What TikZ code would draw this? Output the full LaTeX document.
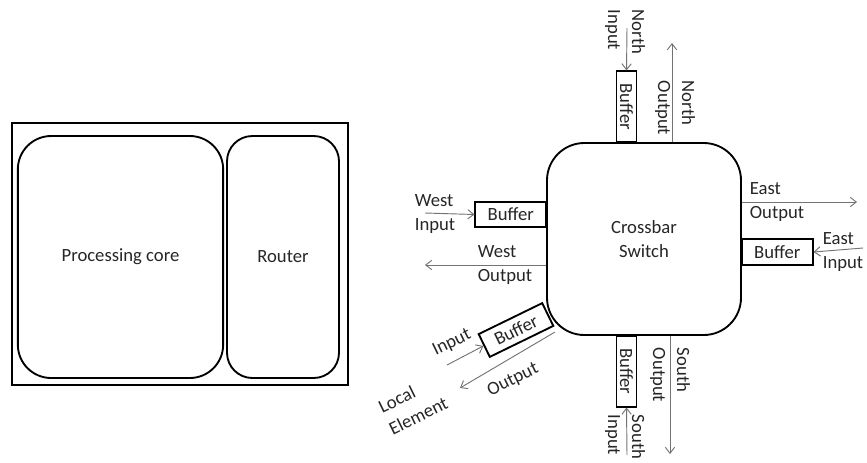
\documentclass[tikz,border=0pt]{standalone}
\usepackage{fontspec}
\setmainfont{Carlito}
\usetikzlibrary{arrows.meta,positioning,calc}

\begin{document}
\begin{tikzpicture}[
    x=0.75pt, y=-0.75pt,
    every node/.style={font=\fontsize{14}{18}\selectfont, text=black!85},
    blk/.style={draw, line width=1.4pt, inner sep=0pt},
    buf/.style={draw, line width=1.4pt, fill=white, inner sep=0pt, minimum width=53pt, minimum height=19pt},
    vbuf/.style={buf, rotate=-90, minimum height=15pt},
    lbl/.style={align=left, inner sep=0pt},
    arr/.style={-{Straight Barb[length=4.5pt,width=7pt]}, draw=black!55, line width=0.7pt}
]
\useasboundingbox (0,0) rectangle (867,462);

% Tile: processing core and router
\node[blk, line width=2pt, minimum width=252pt, minimum height=196.5pt] (tile) at (180,254) {};
\node[blk, rounded corners=25pt, minimum width=154pt, minimum height=181.5pt] (core) at (120.5,257) {Processing core};
\node[blk, rounded corners=19pt, minimum width=84pt, minimum height=181.5pt] (router) at (283,257) {Router};

% Crossbar switch
\node[blk, fill=white, rounded corners=28pt, minimum width=145.5pt, minimum height=144pt, align=center] (xbar) at (644,239) {Crossbar\\Switch};

% Buffers
\node[vbuf, anchor=east] (nbuf) at (626.5,143) {Buffer};
\node[vbuf, anchor=west] (sbuf) at (626.5,335) {Buffer};
\node[buf, anchor=east] (wbuf) at (547,214.5) {Buffer};
\node[buf, anchor=west] (ebuf) at (741,252) {Buffer};
\node[buf, rotate=26] (lbuf) at (516,330) {Buffer};

% Free ends of the links
\coordinate (nin)  at (627,28);
\coordinate (nout) at (672,43);
\coordinate (sin)  at (627,455);
\coordinate (sout) at (670,454);
\coordinate (win)  at (425,213);
\coordinate (wout) at (425,265);
\coordinate (ein)  at (863,248);
\coordinate (eout) at (857,202);
\coordinate (lin)  at (447,365);
\coordinate (lsrc) at (555,332);
\coordinate (lout) at (460,388);

% Links
\draw[arr] (nin) -- (nbuf.west);
\draw[arr] (nout |- xbar.north) -- (nout);
\draw[arr] (sin) -- (sbuf.east);
\draw[arr] (sout |- xbar.south) -- (sout);
\draw[arr] (win) -- (wbuf.west);
\draw[arr] (wout -| xbar.west) -- (wout);
\draw[arr] (ein) -- (ebuf.east);
\draw[arr] (eout -| xbar.east) -- (eout);
\draw[arr] (lin) -- (lbuf.west);
\draw[arr] (lsrc) -- (lout);

% Port labels
\node[lbl, rotate=-90] (ninl)  at (625,32)  {North\\Input};
\node[lbl, rotate=-90] (noutl) at (675,108) {North\\Output};
\node[lbl, rotate=-90] (sinl)  at (625,437) {South\\Input};
\node[lbl, rotate=-90] (soutl) at (670,375) {South\\Output};
\node[lbl] (winl)  at (435,214) {West\\Input};
\node[lbl] (woutl) at (505,265) {West\\Output};
\node[lbl] (eoutl) at (777,202) {East\\Output};
\node[lbl] (einl)  at (843,252) {East\\Input};
\node[lbl, rotate=26] (linl)  at (452,343) {Input};
\node[lbl, rotate=26] (loutl) at (513,380) {Output};
\node[lbl, rotate=26] (locl)  at (413,405) {Local\\Element};
\end{tikzpicture}
\end{document}
